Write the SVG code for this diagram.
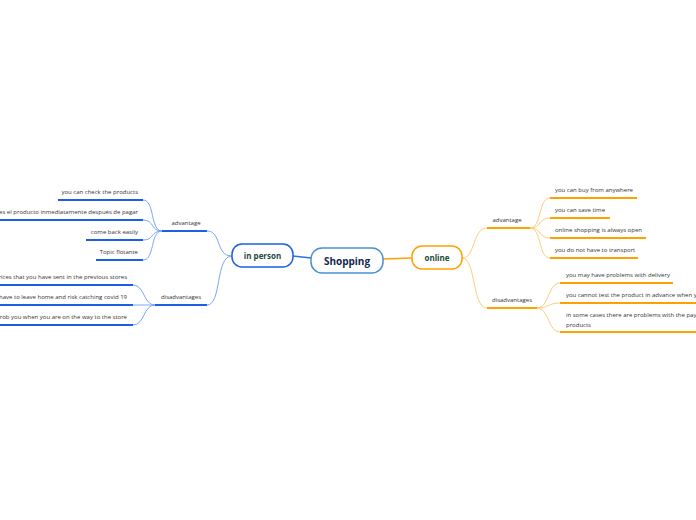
<svg xmlns="http://www.w3.org/2000/svg" width="696" height="520" viewBox="0 0 696 520">
<style>
.bg{fill:#ffffff}
.t{font-family:"Open Sans","Noto Sans",sans-serif;font-size:6px;fill:#333333}
.tn{font-family:"Open Sans","Noto Sans",sans-serif;font-weight:bold;fill:#1d4a3a}
.bu{stroke:#1a5fe6;stroke-width:2;fill:none}
.bc{stroke:#7aa6f7;stroke-width:1;fill:none}
.ou{stroke:#ffa000;stroke-width:2;fill:none}
.oc{stroke:#ffcb78;stroke-width:1;fill:none}
</style>
<rect class="bg" x="0" y="0" width="696" height="520"/>
<g id="connectors">
  <path d="M293,256 L311,258" stroke="#2a6fe8" stroke-width="1.5" fill="none"/>
  <path d="M383,259 L412,258" stroke="#ffa000" stroke-width="1.5" fill="none"/>
  <!-- in person to sub -->
  <path class="bc" d="M232,256 C215,256 222,231 207,231"/>
  <path class="bc" d="M232,256 C215,256 222,305 207,305"/>
  <!-- advantage left leaves -->
  <path class="bc" d="M162,231 C150,231 155,200 143,200"/>
  <path class="bc" d="M162,231 C150,231 155,220 143,220"/>
  <path class="bc" d="M162,231 C150,231 155,240 143,240"/>
  <path class="bc" d="M162,231 C150,231 155,260 143,260"/>
  <!-- disadvantages left leaves -->
  <path class="bc" d="M155,305 C143,305 145,285 133,285"/>
  <path class="bc" d="M155,305 C143,305 145,305 133,305"/>
  <path class="bc" d="M155,305 C143,305 145,325 133,325"/>
  <!-- online to sub -->
  <path class="oc" d="M462,258 C476,258 472,228 487,228"/>
  <path class="oc" d="M462,258 C476,258 472,308 487,308"/>
  <!-- advantage right leaves -->
  <path class="oc" d="M530,228 C542,228 538,198 550,198"/>
  <path class="oc" d="M530,228 C542,228 538,218 550,218"/>
  <path class="oc" d="M530,228 C542,228 538,238 550,238"/>
  <path class="oc" d="M530,228 C542,228 538,258 550,258"/>
  <!-- disadvantages right leaves -->
  <path class="oc" d="M537,308 C549,308 548,283 560,283"/>
  <path class="oc" d="M537,308 C549,308 548,303 560,303"/>
  <path class="oc" d="M537,308 C549,308 548,332 560,332"/>
</g>
<g id="shopping">
  <rect x="311" y="248" width="72" height="25" rx="11" fill="#ffffff" stroke="#4a90d2" stroke-width="1.5"/>
  <text class="tn" x="347" y="264.5" font-size="10" text-anchor="middle" fill="#0f2a5c" style="fill:#13284f">Shopping</text>
</g>
<g id="in-person">
  <rect x="232" y="244" width="61" height="23" rx="10" fill="#ffffff" stroke="#1a5fe6" stroke-width="1.5"/>
  <text class="tn" x="262.5" y="258.5" font-size="8" text-anchor="middle">in person</text>
</g>
<g id="online">
  <rect x="412" y="246" width="50" height="23" rx="10" fill="#ffffff" stroke="#ffa000" stroke-width="1.5"/>
  <text class="tn" x="437" y="260.5" font-size="8" text-anchor="middle">online</text>
</g>
<g id="left-advantage">
  <path class="bu" d="M162,231 H207"/>
  <text class="t" x="186" y="225" text-anchor="middle">advantage</text>
</g>
<g id="left-disadvantages">
  <path class="bu" d="M155,305 H207"/>
  <text class="t" x="181" y="299" text-anchor="middle">disadvantages</text>
</g>
<g id="l-a1"><path class="bu" d="M58,200 H143"/><text class="t" x="138" y="194" text-anchor="end">you can check the products</text></g>
<g id="l-a2"><path class="bu" d="M0,220 H143"/><text class="t" x="138" y="214" text-anchor="end">es el producto inmediatamente después de pagar</text></g>
<g id="l-a3"><path class="bu" d="M86,240 H143"/><text class="t" x="138" y="234" text-anchor="end">come back easily</text></g>
<g id="l-a4"><path class="bu" d="M96,260 H143"/><text class="t" x="138" y="254" text-anchor="end">Topic flotante</text></g>
<g id="l-d1"><path class="bu" d="M0,285 H133"/><text class="t" x="127" y="279" text-anchor="end">rices that you have sent in the previous stores</text></g>
<g id="l-d2"><path class="bu" d="M0,305 H133"/><text class="t" x="127" y="299" text-anchor="end">have to leave home and risk catching covid 19</text></g>
<g id="l-d3"><path class="bu" d="M0,325 H133"/><text class="t" x="127" y="319" text-anchor="end">rob you when you are on the way to the store</text></g>
<g id="right-advantage">
  <path class="ou" d="M487,228 H530"/>
  <text class="t" x="507" y="222" text-anchor="middle">advantage</text>
</g>
<g id="right-disadvantages">
  <path class="ou" d="M487,308 H537"/>
  <text class="t" x="512" y="302" text-anchor="middle">disadvantages</text>
</g>
<g id="r-a1"><path class="ou" d="M550,198 H637"/><text class="t" x="555" y="192">you can buy from anywhere</text></g>
<g id="r-a2"><path class="ou" d="M550,218 H610"/><text class="t" x="555" y="212">you can save time</text></g>
<g id="r-a3"><path class="ou" d="M550,238 H646"/><text class="t" x="555" y="232">online shopping is always open</text></g>
<g id="r-a4"><path class="ou" d="M550,258 H638"/><text class="t" x="555" y="252">you do not have to transport</text></g>
<g id="r-d1"><path class="ou" d="M560,283 H673"/><text class="t" x="566" y="277">you may have problems with delivery</text></g>
<g id="r-d2"><path class="ou" d="M560,303 H696"/><text class="t" x="566" y="297">you cannot test the product in advance when yo</text></g>
<g id="r-d3"><path class="ou" d="M560,332 H696"/><text class="t" x="566" y="317">in some cases there are problems with the pay</text><text class="t" x="566" y="327">products</text></g>
</svg>
